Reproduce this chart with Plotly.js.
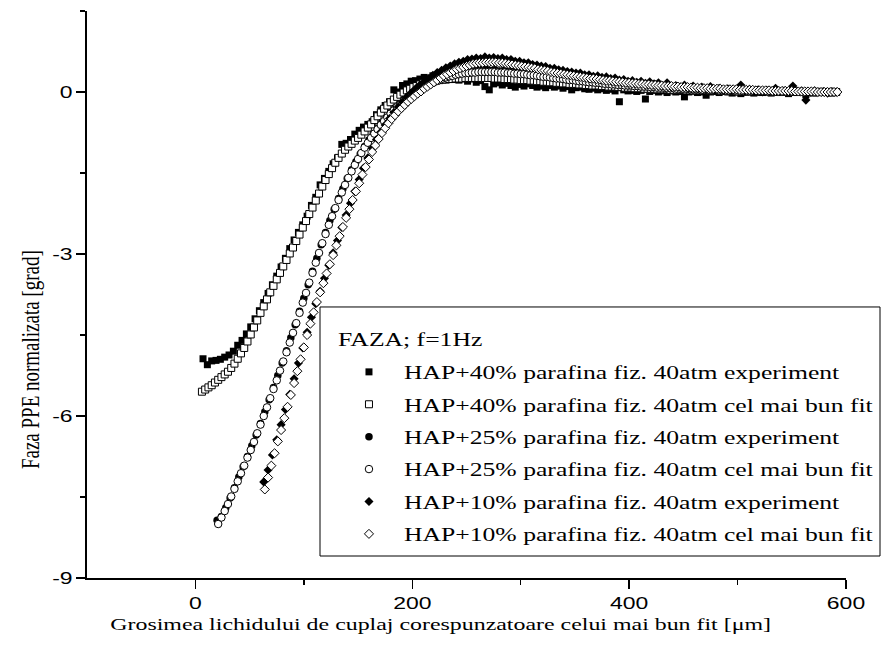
<!DOCTYPE html>
<html>
<head>
<meta charset="utf-8">
<script src="https://cdn.plot.ly/plotly-3.0.1.min.js"></script>
<style>
  html, body { margin: 0; padding: 0; background: #fff; overflow: hidden; }
</style>
</head>
<body>
<div id="chart"></div>
<script>
// ---- HAP+40% parafina ----
const exp40X = [7,11,15,19,23,27,31,35,39,43,47,51,55,59,63,67,71,75,79,83,87,91,95,99,103,107,111,115,119,123,127,131,135,139,143,147,151,155,159,163,167,171,175,179,183,
  187,191,195,199,203,207,211,215,219,223,227,231,235,239,243,247,251,255,259,263,267,271,275,279,283,287,291,295,299,303,307,311,315,319,323,327,331,335,339,343,347,351,355,359,363,367,371,375,379,383,387,
  391,395,399,403,407,411,415,419,423,427,431,435,439,443,447,451,455,459,463,467,471,475,479,483,487,491,495,499,503,507,511,515,519,523,527,531,535,539,543,547,551,555,559,563,567,571,575,579,583,587,591];
const exp40Y = [-4.94,-5.05,-4.98,-4.97,-4.95,-4.91,-4.87,-4.80,-4.69,-4.60,-4.48,-4.35,-4.20,-4.05,-3.90,-3.73,-3.57,-3.41,-3.24,-3.08,-2.90,-2.74,-2.60,-2.46,-2.30,-2.10,-1.95,-1.72,-1.60,-1.47,-1.33,-1.22,-0.97,-0.95,-0.88,-0.78,-0.71,-0.65,-0.60,-0.55,-0.42,-0.33,-0.25,-0.18,0.04,
  0.00,0.12,0.15,0.20,0.21,0.24,0.27,0.22,0.30,0.25,0.28,0.23,0.27,0.24,0.22,0.26,0.20,0.24,0.18,0.21,0.10,0.04,0.15,0.17,0.13,0.16,0.12,0.09,0.14,0.11,0.15,0.12,0.09,0.11,0.08,0.12,0.09,0.11,0.07,0.10,0.04,0.08,0.09,0.06,0.05,0.07,0.04,0.06,0.03,0.05,0.02,
  -0.18,0.04,0.02,0.03,0.01,0.03,-0.13,0.01,0.03,0.00,0.02,-0.01,0.02,0.00,0.01,-0.09,0.00,0.02,-0.01,0.00,-0.06,0.00,0.02,-0.01,0.01,0.00,-0.02,0.01,-0.03,0.00,0.01,-0.02,0.00,-0.01,0.01,-0.02,0.00,-0.01,0.01,-0.03,0.00,-0.01,0.00,-0.05,0.00,-0.02,0.01,-0.01,0.00,-0.02,0.00];
const fit40X = [6,9,12,15,18,21,24,27,30,33,36,39,42,45,48,51,54,57,60,63,66,69,72,75,78,81,84,87,90,93,96,99,102,105,108,111,114,117,120,123,126,129,132,135,138,141,144,147,150,153,156,159,162,165,168,171,174,177,180,183,186,189,192,195,198,201,204,207,210,213,216,219,222,225,228,231,234,237,240,243,246,249,
  252,255,258,261,264,267,270,273,
  276,279,282,285,288,291,294,297,300,303,306,309,312,315,318,321,324,327,330,333,336,339,342,345,348,351,354,357,360,363,366,369,372,375,378,381,384,387,390,393,396,399,402,405,408,411,414,417,420,423,426,429,432,435,438,441,444,447,450,
  453,456,459,462,465,468,471,474,477,480,483,486,489,492,495,498,501,504,507,510,513,516,519,522,525,528,531,
  534,537,540,543,546,549,552,555,558,561,564,567,570,573,576,579,582,585,588,591];
const fit40Y = [-5.55,-5.51,-5.47,-5.43,-5.38,-5.33,-5.28,-5.23,-5.18,-5.11,-5.03,-4.94,-4.84,-4.74,-4.62,-4.49,-4.36,-4.23,-4.09,-3.97,-3.84,-3.71,-3.59,-3.47,-3.35,-3.23,-3.11,-2.99,-2.88,-2.76,-2.64,-2.51,-2.39,-2.26,-2.14,-2.01,-1.88,-1.75,-1.63,-1.52,-1.41,-1.31,-1.22,-1.14,-1.07,-1.01,-0.96,-0.90,-0.85,-0.79,-0.73,-0.66,-0.60,-0.52,-0.45,-0.38,-0.31,-0.25,-0.19,-0.14,-0.09,-0.05,-0.01,0.03,0.06,0.09,0.11,0.14,0.16,0.17,0.19,0.20,0.21,0.22,0.23,0.23,0.24,0.24,0.25,0.25,0.25,0.26,
  0.26,0.26,0.26,0.26,0.26,0.26,0.26,0.26,
  0.25,0.25,0.25,0.24,0.24,0.24,0.23,0.23,0.22,0.22,0.22,0.21,0.21,0.20,0.20,0.19,0.19,0.18,0.18,0.17,0.17,0.16,0.16,0.15,0.15,0.15,0.14,0.14,0.13,0.13,0.12,0.12,0.12,0.11,0.11,0.10,0.10,0.10,0.09,0.09,0.08,0.08,0.08,0.07,0.07,0.07,0.06,0.06,0.06,0.06,0.05,0.05,0.05,0.05,0.04,0.04,0.04,0.04,0.04,
  0.03,0.03,0.03,0.03,0.03,0.03,0.03,0.02,0.02,0.02,0.02,0.02,0.02,0.02,0.02,0.01,0.01,0.01,0.01,0.01,0.01,0.01,0.01,0.01,0.01,0.01,0.01,
  0.00,0.00,0.00,0.00,0.00,0.00,0.00,0.00,0.00,0.00,0.00,0.00,0.00,0.00,0.00,0.00,0.00,0.00,0.00,0.00];

// ---- HAP+25% parafina ----
const exp25X = [20,24,28,32,36,40,44,48,52,56,60,64,68,72,76,80,84,88,92,96,100,104,108,112,116,120,124,128,132,136,140,144,148,152,156,160,164,168,172,176,180,184,188,192,196,200,
  204,208,212,216,220,224,228,232,236,240,244,248,252,256,260,264,268,272,276,280,284,288,292,296,300,304,308,312,316,320,324,328,332,336,340,344,348,352,356,360,364,368,372,376,380,384,388,392,396,400,
  404,408,412,416,420,424,428,432,436,440,444,448,452,456,460,464,468,472,476,480,484,488,492,496,500,504,508,512,516,520,524,528,532,536,540,544,548,552,556,560,564,568,572,576,580,584,588];
const exp25Y = [-7.93,-7.86,-7.70,-7.52,-7.33,-7.13,-6.94,-6.75,-6.55,-6.35,-6.14,-5.92,-5.70,-5.47,-5.25,-5.02,-4.79,-4.55,-4.31,-4.06,-3.82,-3.57,-3.32,-3.08,-2.83,-2.60,-2.38,-2.17,-1.97,-1.79,-1.60,-1.44,-1.29,-1.15,-1.01,-0.89,-0.77,-0.67,-0.56,-0.47,-0.38,-0.29,-0.22,-0.14,-0.08,-0.01,
  0.04,0.09,0.13,0.18,0.22,0.26,0.29,0.32,0.35,0.37,0.38,0.40,0.41,0.40,0.42,0.41,0.42,0.40,0.41,0.39,0.40,0.38,0.38,0.36,0.37,0.35,0.34,0.34,0.32,0.31,0.31,0.29,0.28,0.27,0.26,0.24,0.24,0.22,0.22,0.20,0.20,0.18,0.18,0.17,0.16,0.15,0.15,0.13,0.13,0.12,
  0.12,0.11,0.11,0.10,0.10,0.09,0.09,0.08,0.08,0.07,0.07,0.06,0.07,0.05,0.06,0.05,0.05,0.04,0.05,0.03,0.04,0.03,0.03,0.02,0.03,0.02,0.02,0.01,0.02,0.01,0.02,0.01,0.01,0.00,0.01,0.00,0.01,0.00,0.00,-0.01,0.00,0.00,-0.01,0.00,0.00,-0.01,0.00];
const fit25X = [21,24,27,30,33,36,39,42,45,48,51,54,57,60,63,66,69,72,75,78,81,84,87,90,93,96,99,102,105,108,111,114,117,120,123,126,129,132,135,138,141,144,147,150,153,156,159,162,165,168,171,174,177,180,183,186,189,192,195,198,201,204,207,210,213,216,219,222,225,228,231,234,237,240,243,246,249,252,255,258,
  261,264,267,270,273,276,
  279,282,285,288,291,294,297,300,303,306,309,312,315,318,321,324,327,330,333,336,339,342,345,348,351,354,357,360,363,366,369,372,375,378,381,384,387,390,393,396,399,402,405,408,411,414,417,420,423,426,429,432,435,438,441,444,447,450,453,456,459,462,465,
  468,471,474,477,480,483,486,489,492,495,498,501,504,507,510,513,516,519,522,525,528,531,534,537,540,543,546,549,552,555,
  558,561,564,567,570,573,576,579,582,585,588,591];
const fit25Y = [-8.00,-7.88,-7.76,-7.63,-7.49,-7.35,-7.21,-7.06,-6.92,-6.77,-6.63,-6.48,-6.32,-6.16,-6.00,-5.84,-5.67,-5.50,-5.34,-5.16,-4.99,-4.82,-4.64,-4.46,-4.28,-4.09,-3.90,-3.72,-3.53,-3.35,-3.16,-2.98,-2.80,-2.63,-2.46,-2.30,-2.15,-2.00,-1.86,-1.72,-1.59,-1.47,-1.35,-1.24,-1.13,-1.03,-0.94,-0.85,-0.77,-0.69,-0.61,-0.54,-0.47,-0.40,-0.34,-0.28,-0.23,-0.17,-0.13,-0.08,-0.04,0.01,0.04,0.08,0.11,0.14,0.17,0.20,0.22,0.25,0.27,0.29,0.30,0.32,0.33,0.34,0.35,0.35,0.36,0.36,
  0.37,0.37,0.37,0.37,0.37,0.37,
  0.36,0.36,0.36,0.35,0.35,0.34,0.34,0.33,0.33,0.32,0.31,0.31,0.30,0.29,0.28,0.28,0.27,0.26,0.25,0.25,0.24,0.23,0.22,0.22,0.21,0.20,0.20,0.19,0.18,0.18,0.17,0.17,0.16,0.15,0.15,0.14,0.14,0.13,0.13,0.12,0.12,0.12,0.11,0.11,0.10,0.10,0.10,0.09,0.09,0.08,0.08,0.08,0.07,0.07,0.07,0.06,0.06,0.06,0.06,0.05,0.05,0.05,0.05,
  0.04,0.04,0.04,0.04,0.04,0.03,0.03,0.03,0.03,0.03,0.03,0.03,0.02,0.02,0.02,0.02,0.02,0.02,0.02,0.02,0.01,0.01,0.01,0.01,0.01,0.01,0.01,0.01,0.01,0.01,
  0.00,0.00,0.00,0.00,0.00,0.00,0.00,0.00,0.00,0.00,0.00,0.00];

// ---- HAP+10% parafina ----
const exp10X = [63,67,71,75,79,83,87,91,95,99,103,107,111,115,119,123,127,131,135,139,143,147,151,155,159,163,167,171,175,179,183,187,191,195,199,
  203,207,211,215,219,223,227,231,235,239,243,247,251,255,259,263,267,271,275,279,283,287,291,295,299,303,307,311,315,319,323,327,331,335,339,343,347,351,355,359,363,367,371,375,379,383,387,391,395,399,
  403,407,411,415,419,423,427,431,435,439,443,447,451,455,459,463,467,471,475,479,483,487,491,495,499,503,507,511,515,519,523,527,531,535,539,543,547,551,555,559,563,567,571,575,579,583,587,591];
const exp10Y = [-7.22,-7.00,-6.72,-6.44,-6.16,-5.88,-5.60,-5.31,-5.02,-4.74,-4.45,-4.17,-3.92,-3.69,-3.45,-3.21,-2.98,-2.75,-2.51,-2.28,-2.06,-1.84,-1.62,-1.41,-1.22,-1.04,-0.88,-0.74,-0.61,-0.49,-0.38,-0.28,-0.19,-0.10,-0.02,
  0.06,0.13,0.19,0.25,0.31,0.36,0.40,0.45,0.48,0.52,0.55,0.57,0.60,0.61,0.63,0.62,0.65,0.63,0.64,0.62,0.63,0.60,0.60,0.57,0.57,0.54,0.54,0.51,0.50,0.48,0.47,0.44,0.44,0.41,0.40,0.38,0.37,0.35,0.35,0.32,0.32,0.29,0.30,0.27,0.28,0.25,0.26,0.22,0.23,0.20,
  0.21,0.18,0.20,0.16,0.19,0.15,0.17,0.12,0.17,0.10,0.12,0.09,0.13,0.07,0.11,0.06,0.09,0.05,0.10,0.04,0.07,0.03,0.06,0.03,0.05,0.13,0.02,0.05,0.01,0.04,0.00,0.03,0.02,0.07,0.01,0.02,0.00,0.11,0.01,0.02,-0.15,-0.01,0.02,0.00,0.01,-0.02,0.01,0.00];
const fit10X = [64,67,70,73,76,79,82,85,88,91,94,97,100,103,106,109,112,115,118,121,124,127,130,133,136,139,142,145,148,151,154,157,160,163,166,169,172,175,178,181,184,187,190,193,196,199,202,205,208,211,214,217,220,223,226,229,232,235,238,241,244,247,250,253,256,259,262,265,268,271,274,277,280,283,286,289,292,295,298,301,304,307,310,313,316,319,322,325,328,331,334,337,340,343,346,349,352,355,358,361,364,367,370,373,376,379,382,385,388,391,394,397,400,403,406,409,412,415,418,421,424,427,430,433,436,439,442,445,448,451,454,457,460,463,466,469,472,475,478,481,484,
  487,490,493,496,499,502,505,508,511,514,517,520,523,526,529,532,535,538,541,544,547,550,553,556,559,562,565,568,571,574,577,580,583,586,589,592];
const fit10Y = [-7.36,-7.14,-6.92,-6.69,-6.47,-6.26,-6.04,-5.83,-5.61,-5.39,-5.17,-4.95,-4.73,-4.50,-4.29,-4.08,-3.89,-3.71,-3.54,-3.36,-3.19,-3.02,-2.84,-2.67,-2.50,-2.33,-2.17,-2.00,-1.84,-1.69,-1.53,-1.39,-1.25,-1.11,-0.99,-0.87,-0.76,-0.67,-0.58,-0.50,-0.43,-0.36,-0.30,-0.24,-0.18,-0.13,-0.08,-0.03,0.01,0.06,0.10,0.14,0.18,0.22,0.26,0.30,0.33,0.36,0.39,0.42,0.44,0.46,0.48,0.50,0.52,0.53,0.54,0.54,0.55,0.55,0.55,0.55,0.54,0.54,0.53,0.52,0.51,0.50,0.49,0.48,0.47,0.46,0.45,0.44,0.42,0.41,0.40,0.39,0.37,0.36,0.35,0.34,0.33,0.32,0.31,0.30,0.29,0.28,0.27,0.26,0.25,0.25,0.24,0.23,0.22,0.21,0.21,0.20,0.19,0.19,0.18,0.17,0.17,0.16,0.16,0.15,0.15,0.14,0.14,0.13,0.13,0.12,0.12,0.11,0.11,0.11,0.10,0.10,0.09,0.09,0.09,0.08,0.08,0.08,0.07,0.07,0.07,0.06,0.06,0.06,0.06,
  0.05,0.05,0.05,0.05,0.05,0.04,0.04,0.04,0.04,0.04,0.03,0.03,0.03,0.03,0.03,0.02,0.02,0.02,0.02,0.02,0.02,0.02,0.01,0.01,0.01,0.01,0.01,0.01,0.01,0.00,0.00,0.00,0.00,0.00,0.00,0.00];

// ---- labels and ticks ----
const seriesNames = [
  'HAP+40% parafina fiz. 40atm experiment',
  'HAP+40% parafina fiz. 40atm cel mai bun fit',
  'HAP+25% parafina fiz. 40atm experiment',
  'HAP+25% parafina fiz. 40atm cel mai bun fit',
  'HAP+10% parafina fiz. 40atm experiment',
  'HAP+10% parafina fiz. 40atm cel mai bun fit'
];
const legendTitle = 'FAZA; f=1Hz';
const xTitle = 'Grosimea lichidului de cuplaj corespunzatoare celui mai bun fit [\u03bcm]';
const yTitle = 'Faza PPE normalizata [grad]';
const xTickVals = [0, 200, 400, 600];
const xTickText = ['0', '200', '400', '600'];
const xMinorVals = [100, 300, 500];
const yTickVals = [-9, -6, -3, 0];
const yTickText = ['-9', '-6', '-3', '0'];
const yMinorVals = [-7.5, -4.5, -1.5, 1.5];

const serif = 'Liberation Serif, Times New Roman, serif';
const sans = 'Liberation Sans, Arial, sans-serif';
const textWiden = 1.35;   // all lettering is set wide

function filled(symbol, size) {
  return { symbol: symbol, size: size, color: '#000', line: { width: 0 } };
}
function hollow(symbol, size) {
  return { symbol: symbol, size: size, color: '#fff', line: { color: '#000', width: 1 } };
}

const traces = [
  { x: exp40X, y: exp40Y, marker: filled('square', 7) },
  { x: fit40X, y: fit40Y, marker: hollow('square', 7) },
  { x: exp25X, y: exp25Y, marker: filled('circle', 7.5) },
  { x: fit25X, y: fit25Y, marker: hollow('circle', 7.5) },
  { x: exp10X, y: exp10Y, marker: filled('diamond', 7) },
  { x: fit10X, y: fit10Y, marker: hollow('diamond', 7) }
].map((t, i) => Object.assign(t, {
  type: 'scatter', mode: 'markers', name: seriesNames[i], legendgroup: 'g' + i, cliponaxis: false
}));

const axisBase = {
  showline: true, linecolor: '#000', linewidth: 2,
  ticks: 'outside', ticklen: 9, tickwidth: 1.5, tickcolor: '#000',
  showgrid: false, zeroline: false, tickmode: 'array',
  tickfont: { family: sans, size: 17, color: '#000' }
};
const minorBase = { tickmode: 'array', ticks: 'outside', ticklen: 5, tickwidth: 1.5, tickcolor: '#000' };

const layout = {
  width: 882, height: 661,
  margin: { l: 87, r: 36, t: 11, b: 83, autoexpand: false },
  paper_bgcolor: '#fff', plot_bgcolor: '#fff',
  font: { family: serif, color: '#000' },
  xaxis: Object.assign({}, axisBase, {
    range: [-100, 600], tickvals: xTickVals, ticktext: xTickText,
    minor: Object.assign({ tickvals: xMinorVals }, minorBase)
  }),
  yaxis: Object.assign({}, axisBase, {
    range: [-9, 1.5], tickvals: yTickVals, ticktext: yTickText,
    minor: Object.assign({ tickvals: yMinorVals }, minorBase)
  }),
  showlegend: true,
  legend: {
    x: 0.3254, xanchor: 'left', y: 0.3968, yanchor: 'top',
    bgcolor: 'rgba(0,0,0,0)', borderwidth: 0,
    traceorder: 'grouped', tracegroupgap: 4.7, itemwidth: 60,
    font: { family: serif, size: 19, color: '#000' }
  },
  shapes: [{
    type: 'rect', xref: 'paper', yref: 'paper',
    x0: 0.307, x1: 1.0448, y0: 0.0388, y1: 0.478,
    line: { color: '#000', width: 1 }, fillcolor: 'rgba(0,0,0,0)', layer: 'above'
  }],
  annotations: [
    { xref: 'paper', yref: 'paper', x: 0.328, y: 0.4198, xanchor: 'left', yanchor: 'middle',
      text: legendTitle, showarrow: false, font: { family: serif, size: 19, color: '#000' } },
    { xref: 'paper', yref: 'paper', x: 0.4664, y: -0.081, xanchor: 'center', yanchor: 'middle',
      text: xTitle, showarrow: false, font: { family: serif, size: 17.7, color: '#000' } },
    { xref: 'paper', yref: 'paper', x: -0.0751, y: 0.386, xanchor: 'center', yanchor: 'middle',
      text: yTitle, textangle: -90, showarrow: false, font: { family: serif, size: 19, color: '#000' } }
  ]
};

// widen a text element horizontally on screen, keeping its left edge, right edge or centre in place
function widenText(el, keep) {
  const r = el.getBoundingClientRect();
  if (!r.width) return;
  const ax = keep === 'start' ? r.left : keep === 'end' ? r.right : r.left + r.width / 2;
  const parent = DOMMatrix.fromMatrix(el.parentNode.getScreenCTM());
  const onScreen = new DOMMatrix().translate(ax, 0).scale(textWiden, 1).translate(-ax, 0);
  const own = el.transform.baseVal.consolidate();
  const local = own ? DOMMatrix.fromMatrix(own.matrix) : new DOMMatrix();
  const m = parent.inverse().multiply(onScreen).multiply(parent).multiply(local);
  el.setAttribute('transform', 'matrix(' + [m.a, m.b, m.c, m.d, m.e, m.f].join(',') + ')');
}

Plotly.newPlot('chart', traces, layout, { staticPlot: true, displayModeBar: false }).then(gd => {
  // the widened legend entries run past the legend's own clip box
  gd.querySelectorAll('.legend [clip-path]').forEach(g => g.removeAttribute('clip-path'));
  gd.querySelectorAll('.xtick text').forEach(t => widenText(t, 'middle'));
  gd.querySelectorAll('.ytick text').forEach(t => widenText(t, 'end'));
  gd.querySelectorAll('.legend .legendtext').forEach(t => widenText(t, 'start'));
  const keeps = ['start', 'middle', 'middle'];
  gd.querySelectorAll('.annotation').forEach((a, i) => {
    const t = a.querySelector('text.annotation-text');
    if (t) widenText(t, keeps[i] || 'middle');
  });
});
</script>
</body>
</html>
